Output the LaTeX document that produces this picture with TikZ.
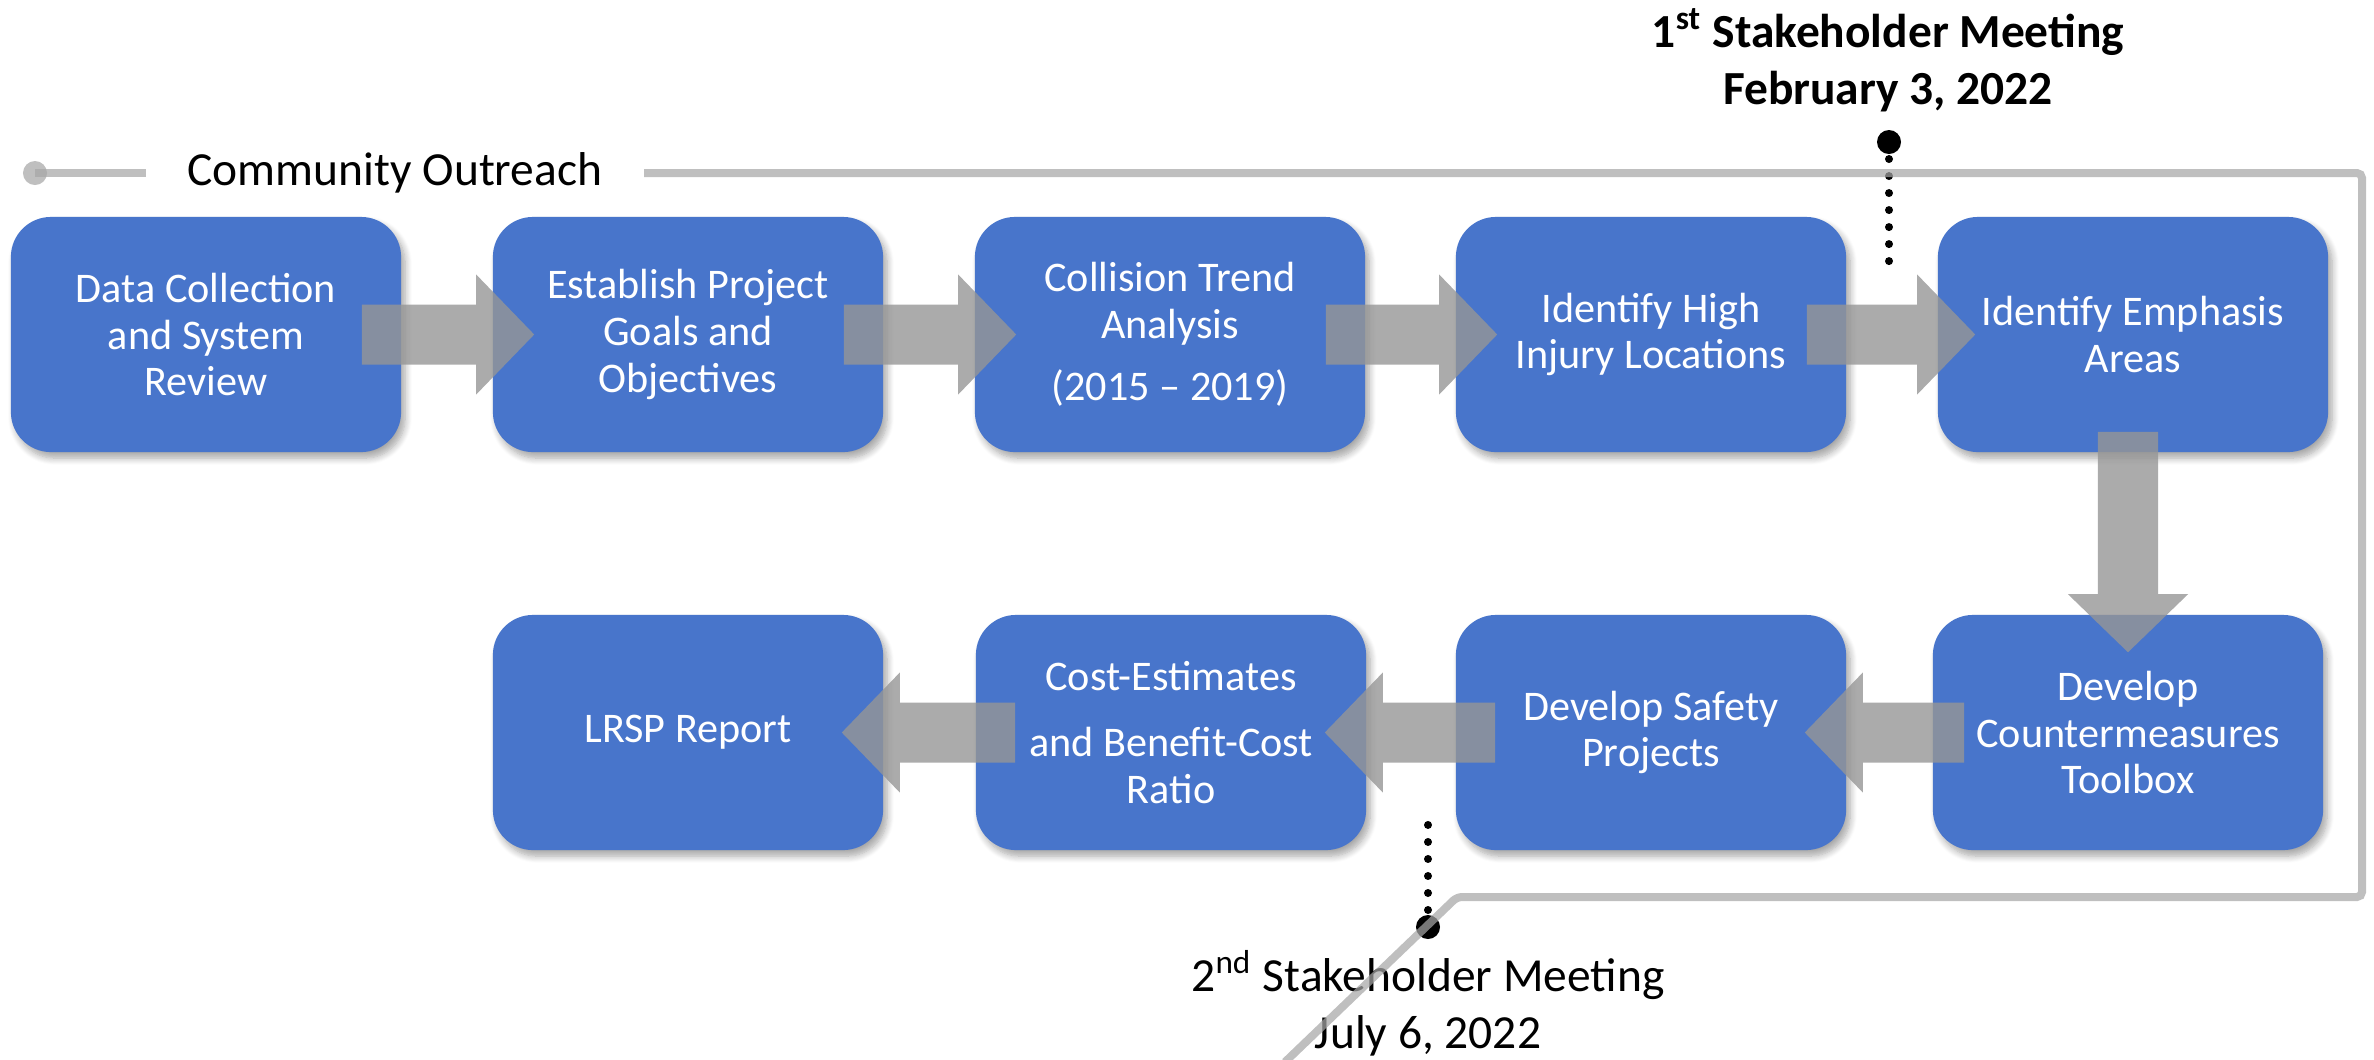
\documentclass[tikz,border=0pt]{standalone}
\usepackage{fontspec}
\setmainfont{Carlito}
\usetikzlibrary{calc,shadows.blur}

\definecolor{boxblue}{RGB}{72,117,203}
\definecolor{outreachgray}{RGB}{166,166,166}
\definecolor{arrowgray}{RGB}{150,150,150}

\tikzset{
  stepbox/.style={rectangle, rounded corners=0.4cm, fill=boxblue,
    minimum width=3.9cm, minimum height=2.35cm, text=white, align=center,
    font=\fontsize{12}{13.3}\selectfont,
    blur shadow={shadow xshift=0.04cm, shadow yshift=-0.06cm,
      shadow blur steps=8, shadow opacity=35}},
  flowarrow/.style={fill=arrowgray, fill opacity=0.8},
  outreach/.style={draw=outreachgray, draw opacity=0.72, line width=0.08cm},
  startdot/.style={circle, fill=outreachgray, fill opacity=0.72, inner sep=0pt, minimum size=0.24cm},
  meetdot/.style={circle, fill=black, inner sep=0pt, minimum size=0.24cm},
  dots/.style={line width=0.08cm, line cap=round, dash pattern=on 0pt off 0.17cm},
  meettext/.style={align=center, font=\fontsize{13.5}{16.2}\selectfont},
}

% block arrow from #1 (tail) to #2 (tip)
\newcommand{\flowarrow}[2]{%
  \fill[flowarrow] let \p1=(#1), \p2=(#2),
    \n1={atan2(\y2-\y1,\x2-\x1)}, \n2={veclen(\x2-\x1,\y2-\y1)} in
    ($(\p1)+(\n1-90:0.3cm)$)
    -- ($(\p1)+(\n1:\n2-0.58cm)+(\n1-90:0.3cm)$)
    -- ($(\p1)+(\n1:\n2-0.58cm)+(\n1-90:0.6cm)$)
    -- (\p2)
    -- ($(\p1)+(\n1:\n2-0.58cm)+(\n1+90:0.6cm)$)
    -- ($(\p1)+(\n1:\n2-0.58cm)+(\n1+90:0.3cm)$)
    -- ($(\p1)+(\n1+90:0.3cm)$) -- cycle;}

\begin{document}
\begin{tikzpicture}[x=0.01cm, y=-0.01cm]
\useasboundingbox (0,0) rectangle (2374,1059);

% first row
\node[stepbox] (collect) at (206,334.5) {Data Collection\\and System\\Review};
\node[stepbox] (goals) at (688,334.5) {Establish Project\\Goals and\\Objectives};
\node[stepbox] (trend) at (1170,334.5) {Collision Trend\\Analysis\\[4.5pt](2015 – 2019)};
\node[stepbox] (injury) at (1651,334.5) {Identify High\\Injury Locations};
\node[stepbox] (emphasis) at (2133,334.5) {Identify Emphasis\\Areas};

% second row
\node[stepbox] (toolbox) at (2128,732.5) {Develop\\Countermeasures\\Toolbox};
\node[stepbox] (projects) at (1651,732.5) {Develop Safety\\Projects};
\node[stepbox] (cost) at (1171,732.5) {Cost-Estimates\\[5.7pt]and Benefit-Cost\\Ratio};
\node[stepbox] (report) at (688,732.5) {LRSP Report};

% process arrows
\flowarrow{$(collect.east)+(-40,0)$}{$(goals.west)+(42,0)$}
\flowarrow{$(goals.east)+(-40,0)$}{$(trend.west)+(42,0)$}
\flowarrow{$(trend.east)+(-40,0)$}{$(injury.west)+(42,0)$}
\flowarrow{$(injury.east)+(-40,0)$}{$(emphasis.west)+(38,0)$}
\flowarrow{$(toolbox.north |- emphasis.south)+(0,-21)$}{$(toolbox.north)+(0,38)$}
\flowarrow{$(toolbox.west)+(32,0)$}{$(projects.east)+(-42,0)$}
\flowarrow{$(projects.west)+(40,0)$}{$(cost.east)+(-42,0)$}
\flowarrow{$(cost.west)+(40,0)$}{$(report.east)+(-42,0)$}

% stakeholder meetings
\node[meetdot] (meet1) at (1889,142) {};
\coordinate (meet1end) at (1889,277);
\draw[dots] (meet1.center) -- (meet1end);
\node[meettext, font=\bfseries\fontsize{13.5}{16.2}\selectfont] (meet1text) at (1888,60)
  {1\textsuperscript{st} Stakeholder Meeting\\February 3, 2022};

\node[meetdot] (meet2) at (1428,927) {};
\coordinate (meet2end) at (1428,808);
\draw[dots] (meet2.center) -- (meet2end);
\node[meettext] (meet2text) at (1428,1003)
  {2\textsuperscript{nd} Stakeholder Meeting\\July 6, 2022};

% community outreach line
\node[startdot] (ostart) at (35,173) {};
\node[font=\fontsize{13.5}{16}\selectfont, inner xsep=0.41cm, inner ysep=0pt] (outreach) at (395,173) {Community Outreach};
\coordinate (cornerne) at (2362,173);
\coordinate (cornerse) at (2362,897);
\coordinate (bend) at (1457,897);
\coordinate (lineend) at (1285,1062);
\draw[outreach] (ostart.center) -- (outreach.west);
\draw[outreach, rounded corners=0.05cm] (outreach.east) -- (cornerne) -- (cornerse) -- (bend) -- (lineend);
\end{tikzpicture}
\end{document}
